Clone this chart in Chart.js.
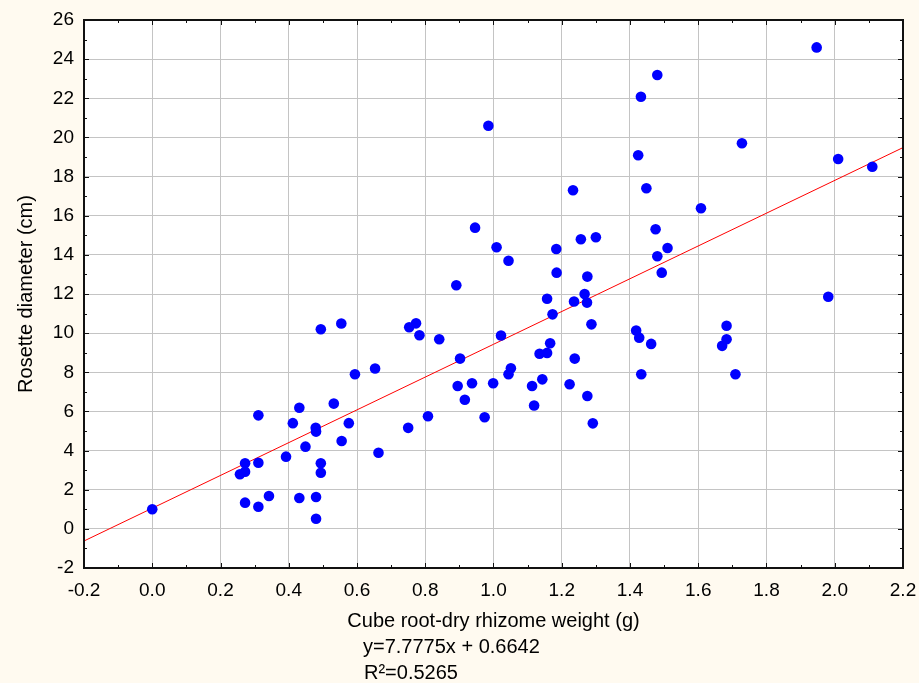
<!DOCTYPE html>
<html>
<head>
<meta charset="utf-8">
<title>Rosette diameter vs cube root-dry rhizome weight</title>
<script src="https://cdn.jsdelivr.net/npm/chart.js@4.4.1/dist/chart.umd.min.js"></script>
<style>
  html, body { margin: 0; padding: 0; background: #fffaf0; }
  #wrap { width: 919px; height: 683px; }
</style>
</head>
<body>
<div id="wrap"><canvas id="myChart" width="919" height="683"></canvas></div>
<script>
/* globals Chart:false */

// data
const rhizomeWeight = [
  0.000, 0.257, 0.272, 0.272, 0.272, 0.311, 0.311, 0.311, 0.342, 0.392,
  0.412, 0.431, 0.431, 0.449, 0.479, 0.480, 0.480, 0.480, 0.494, 0.494,
  0.494, 0.532, 0.554, 0.555, 0.576, 0.594, 0.653, 0.663, 0.750, 0.753,
  0.773, 0.783, 0.808, 0.841, 0.891, 0.895, 0.902, 0.916, 0.937, 0.946,
  0.974, 0.985, 0.999, 1.009, 1.022, 1.044, 1.044, 1.051, 1.113, 1.119,
  1.135, 1.143, 1.157, 1.157, 1.166, 1.173, 1.184, 1.185, 1.223, 1.233,
  1.236, 1.238, 1.256, 1.267, 1.274, 1.275, 1.275, 1.287, 1.291, 1.300,
  1.418, 1.424, 1.427, 1.432, 1.433, 1.448, 1.462, 1.475, 1.480, 1.480,
  1.493, 1.510, 1.608, 1.670, 1.683, 1.683, 1.709, 1.728, 1.947, 1.981,
  2.010, 2.110
]
const rosetteDiameter = [
  1.00, 2.79, 3.35, 2.92, 1.34, 5.80, 3.38, 1.13, 1.68, 3.69,
  5.40, 6.19, 1.58, 4.20, 5.16, 4.97, 1.63, 0.52, 10.20, 3.35,
  2.87, 6.40, 10.49, 4.49, 5.40, 7.90, 8.19, 3.89, 5.16, 10.30,
  10.50, 9.89, 5.75, 9.69, 12.45, 7.30, 8.70, 6.60, 7.44, 15.39,
  5.70, 20.60, 7.44, 14.39, 9.88, 13.70, 7.90, 8.20, 7.30, 6.30,
  8.95, 7.64, 8.99, 11.76, 9.48, 10.96, 14.30, 13.09, 7.39, 17.30,
  11.62, 8.70, 14.80, 12.00, 11.56, 12.89, 6.79, 10.45, 5.39, 14.90,
  10.13, 19.09, 9.77, 22.08, 7.90, 17.40, 9.45, 15.31, 23.19, 13.93,
  13.09, 14.35, 16.38, 9.35, 10.38, 9.69, 7.90, 19.70, 24.60, 11.86,
  18.90, 18.50
]

// fitted line as drawn in the figure (end points at the axis limits)
const fitX = [-0.2, 2.2]
const fitY = [-0.62, 19.48]

const xTicks = [-0.2, 0.0, 0.2, 0.4, 0.6, 0.8, 1.0, 1.2, 1.4, 1.6, 1.8, 2.0, 2.2]
const yTicks = [-2, 0, 2, 4, 6, 8, 10, 12, 14, 16, 18, 20, 22, 24, 26]

const xTitle = 'Cube root-dry rhizome weight (g)'
const yTitle = 'Rosette diameter (cm)'
const equationText = 'y=7.7775x + 0.6642'
const r2Text = 'R²=0.5265'

const FONT = '"Liberation Sans", Arial, Helvetica, sans-serif'

const backdrop = {
  id: 'backdrop',
  beforeDraw (chart) {
    const { ctx, chartArea: a } = chart
    ctx.save()
    ctx.fillStyle = '#fffaf0'
    ctx.fillRect(0, 0, chart.width, chart.height)
    ctx.fillStyle = '#ffffff'
    ctx.fillRect(a.left, a.top, a.right - a.left, a.bottom - a.top)
    ctx.restore()
  }
}

// frame with inward major/minor ticks on all four sides, plus the equation text
const frame = {
  id: 'frame',
  afterDraw (chart) {
    const { ctx, chartArea: a } = chart
    const xs = chart.scales.x
    const ys = chart.scales.y
    ctx.save()
    ctx.strokeStyle = '#111'
    ctx.lineWidth = 1
    ctx.beginPath()
    const tick = (x1, y1, x2, y2) => {
      ctx.moveTo(x1, y1)
      ctx.lineTo(x2, y2)
    }
    xTicks.forEach((v, i) => {
      const px = Math.round(xs.getPixelForValue(v)) + 0.5
      tick(px, a.bottom, px, a.bottom - 5)
      tick(px, a.top, px, a.top + 5)
      if (i < xTicks.length - 1) {
        const m = Math.round(xs.getPixelForValue((v + xTicks[i + 1]) / 2)) + 0.5
        tick(m, a.bottom, m, a.bottom - 3)
        tick(m, a.top, m, a.top + 3)
      }
    })
    yTicks.forEach((v, i) => {
      const py = Math.round(ys.getPixelForValue(v)) + 0.5
      tick(a.left, py, a.left + 5, py)
      tick(a.right, py, a.right - 5, py)
      if (i < yTicks.length - 1) {
        const m = Math.round(ys.getPixelForValue((v + yTicks[i + 1]) / 2)) + 0.5
        tick(a.left, m, a.left + 3, m)
        tick(a.right, m, a.right - 3, m)
      }
    })
    ctx.stroke()
    ctx.lineWidth = 2
    ctx.strokeRect(a.left, a.top, a.right - a.left, a.bottom - a.top)

    ctx.fillStyle = '#000'
    ctx.font = '20px ' + FONT
    ctx.textAlign = 'left'
    ctx.textBaseline = 'alphabetic'
    ctx.fillText(equationText, 363, 653)
    ctx.fillText(r2Text, 364, 679)
    ctx.restore()
  }
}

const ctx = document.getElementById('myChart')
new Chart(ctx, {
  type: 'scatter',
  data: {
    datasets: [{
      data: rhizomeWeight.map((x, i) => ({ x, y: rosetteDiameter[i] })),
      backgroundColor: '#0000ff',
      borderWidth: 0,
      pointRadius: 5.3,
      order: 1
    }, {
      data: fitX.map((x, i) => ({ x, y: fitY[i] })),
      showLine: true,
      borderColor: '#ff0000',
      borderWidth: 1,
      pointRadius: 0,
      fill: false,
      order: 2
    }]
  },
  options: {
    responsive: false,
    animation: false,
    devicePixelRatio: 1,
    layout: {
      padding: { left: 0, right: 16, top: 20, bottom: 0 }
    },
    plugins: {
      legend: { display: false },
      tooltip: { enabled: false }
    },
    scales: {
      x: {
        type: 'linear',
        min: -0.2,
        max: 2.2,
        afterBuildTicks: s => { s.ticks = xTicks.map(v => ({ value: v })) },
        afterFit: s => {
          s.height = 115
          s.paddingLeft = 0
          s.paddingRight = 8
        },
        grid: { color: '#c4c4c4', lineWidth: 1, drawTicks: false },
        border: { display: false },
        ticks: {
          color: '#000',
          font: { size: 19, family: FONT },
          padding: 11,
          maxRotation: 0,
          callback: v => Number(v).toFixed(1)
        },
        title: {
          display: true,
          text: xTitle,
          color: '#000',
          font: { size: 20, family: FONT },
          padding: { top: 0, bottom: 50 }
        }
      },
      y: {
        type: 'linear',
        min: -2,
        max: 26,
        afterBuildTicks: s => { s.ticks = yTicks.map(v => ({ value: v })) },
        afterFit: s => {
          s.width = 84
          s.paddingTop = 8
          s.paddingBottom = 0
        },
        grid: { color: '#c4c4c4', lineWidth: 1, drawTicks: false },
        border: { display: false },
        ticks: {
          color: '#000',
          font: { size: 19, family: FONT },
          padding: 10
        },
        title: {
          display: true,
          text: yTitle,
          color: '#000',
          font: { size: 20, family: FONT },
          padding: { top: 14, bottom: 0 }
        }
      }
    }
  },
  plugins: [backdrop, frame]
})
</script>
</body>
</html>
